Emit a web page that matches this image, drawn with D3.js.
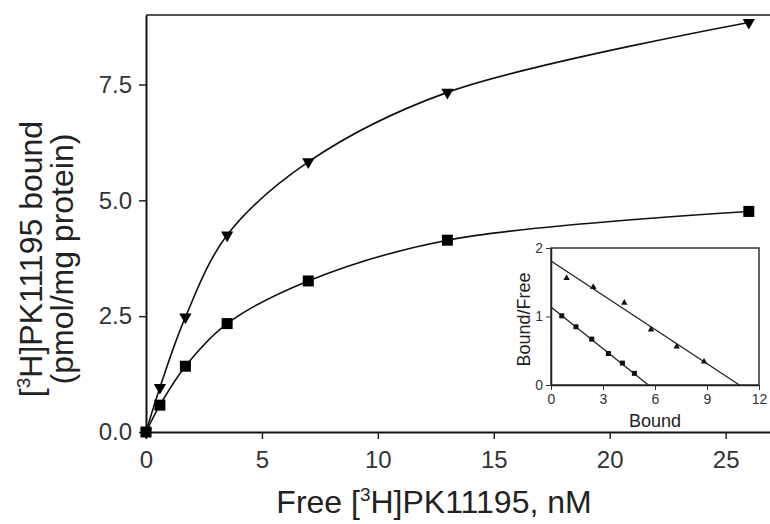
<!DOCTYPE html>
<html>
<head>
<meta charset="utf-8">
<script src="https://cdn.jsdelivr.net/npm/d3@7"></script>
<style>
  body { margin: 0; background: #fff; }
  svg text { font-family: "Liberation Sans", Arial, sans-serif; fill: #222; }
</style>
</head>
<body>
<svg id="binding"></svg>
<script>
// saturation binding: free nM vs bound pmol/mg protein
var freeConc = [0, 0.6, 1.7, 3.5, 7, 13, 26];
var boundTri = [0, 0.96, 2.48, 4.25, 5.83, 7.33, 8.84];
var boundSq = [0, 0.58, 1.42, 2.34, 3.26, 4.14, 4.76];
var xTicks = [0, 5, 10, 15, 20, 25];
var yTicks = [0, 2.5, 5, 7.5];

// scatchard inset
var scatBoundTri = [0.9, 2.44, 4.23, 5.77, 7.25, 8.83];
var scatRatioTri = [1.56, 1.43, 1.20, 0.81, 0.56, 0.34];
var scatBoundSq = [0.62, 1.44, 2.35, 3.31, 4.12, 4.81];
var scatRatioSq = [1.01, 0.85, 0.67, 0.46, 0.32, 0.17];
var fitTri = [[0, 1.81], [10.87, 0]];
var fitSq = [[0, 1.14], [5.62, 0]];
var insetXTicks = [0, 3, 6, 9, 12];
var insetYTicks = [0, 1, 2];

(function(){

    var margin = {top: 15, right: 0, bottom: 92, left: 146};
    var width = 626;
    var height = 417;

    var svg = d3.select("svg#binding")
        .attr("width", 770)
        .attr("height", 524);

    var g = svg.append("g")
        .attr("transform", "translate(" + margin.left + "," + margin.top + ")");

    var xScale = d3.scaleLinear().domain([0, 27]).range([0, width]);
    var yScale = d3.scaleLinear().domain([0, 9]).range([height, 0]);

    // frame top / right
    g.append("line")
        .attr("x1", 0).attr("x2", width).attr("y1", 0).attr("y2", 0)
        .style("stroke", "#555").style("stroke-width", 2);
    g.append("line")
        .attr("x1", width).attr("x2", width).attr("y1", 0).attr("y2", height)
        .style("stroke", "#555").style("stroke-width", 2);

    var xAxis = g.append("g")
        .attr("transform", "translate(0," + height + ")")
        .call(d3.axisBottom(xScale).tickValues(xTicks).tickSize(7).tickSizeOuter(0)
            .tickPadding(12).tickFormat(d3.format("d")));

    var yAxis = g.append("g")
        .call(d3.axisLeft(yScale).tickValues(yTicks).tickSize(7).tickSizeOuter(0)
            .tickPadding(7).tickFormat(d3.format(".1f")));

    [xAxis, yAxis].forEach(function(ax){
        ax.select(".domain").style("stroke", "#111").style("stroke-width", 2);
        ax.selectAll(".tick line").style("stroke", "#222").style("stroke-width", 1.5);
        ax.selectAll(".tick text").style("font-size", "24px").style("fill", "#333");
    });

    var line = d3.line()
        .x(function(d) { return xScale(d[0]); })
        .y(function(d) { return yScale(d[1]); })
        .curve(d3.curveCatmullRom.alpha(0.5));

    var triData = freeConc.map(function(x, i){ return [x, boundTri[i]]; });
    var sqData = freeConc.map(function(x, i){ return [x, boundSq[i]]; });

    [triData, sqData].forEach(function(d){
        g.append("path")
            .datum(d)
            .attr("d", line)
            .style("fill", "none")
            .style("stroke", "#111")
            .style("stroke-width", 1.6);
    });

    g.append("g").selectAll("rect")
        .data(sqData)
        .enter()
        .append("rect")
        .attr("x", function(d){ return xScale(d[0]) - 5.5; })
        .attr("y", function(d){ return yScale(d[1]) - 5.5; })
        .attr("width", 11).attr("height", 11)
        .style("fill", "#000");

    g.append("g").selectAll("path")
        .data(triData)
        .enter()
        .append("path")
        .attr("d", d3.symbol(d3.symbolTriangle).size(65))
        .attr("transform", function(d){
            return "translate(" + xScale(d[0]) + "," + yScale(d[1]) + ") rotate(180)";
        })
        .style("fill", "#000");

    // axis titles
    var xt = svg.append("text")
        .attr("x", 434).attr("y", 513)
        .attr("text-anchor", "middle")
        .style("font-size", "32px");
    xt.append("tspan").text("Free [");
    xt.append("tspan").attr("dy", -12).style("font-size", "19px").text("3");
    xt.append("tspan").attr("dy", 12).text("H]PK11195, nM");

    var yt = svg.append("g").attr("transform", "translate(42,259) rotate(-90)");
    var yl1 = yt.append("text").attr("text-anchor", "middle").style("font-size", "32px");
    yl1.append("tspan").text("[");
    yl1.append("tspan").attr("dy", -12).style("font-size", "19px").text("3");
    yl1.append("tspan").attr("dy", 12).text("H]PK11195 bound");
    yt.append("text").attr("y", 31).attr("text-anchor", "middle")
        .style("font-size", "32px").text("(pmol/mg protein)");

    // ---- inset ----
    var iw = 208, ih = 137;
    var ig = svg.append("g").attr("transform", "translate(551,248)");

    var ix = d3.scaleLinear().domain([0, 12]).range([0, iw]);
    var iy = d3.scaleLinear().domain([0, 2]).range([ih, 0]);

    ig.append("rect")
        .attr("width", iw).attr("height", ih)
        .style("fill", "#fff").style("stroke", "#333").style("stroke-width", 1.5);

    var ixAxis = ig.append("g")
        .attr("transform", "translate(0," + ih + ")")
        .call(d3.axisBottom(ix).tickValues(insetXTicks).tickSize(5).tickSizeOuter(0)
            .tickPadding(4).tickFormat(d3.format("d")));
    var iyAxis = ig.append("g")
        .call(d3.axisLeft(iy).tickValues(insetYTicks).tickSize(5).tickSizeOuter(0)
            .tickPadding(3).tickFormat(d3.format("d")));

    [ixAxis, iyAxis].forEach(function(ax){
        ax.select(".domain").style("stroke", "#222").style("stroke-width", 1.5);
        ax.selectAll(".tick line").style("stroke", "#333");
        ax.selectAll(".tick text").style("font-size", "14px").style("fill", "#333");
    });

    var iline = d3.line()
        .x(function(d){ return ix(d[0]); })
        .y(function(d){ return iy(d[1]); });

    [fitTri, fitSq].forEach(function(d){
        ig.append("path").datum(d).attr("d", iline)
            .style("fill", "none").style("stroke", "#222").style("stroke-width", 1.3);
    });

    ig.append("g").selectAll("rect")
        .data(scatBoundSq)
        .enter()
        .append("rect")
        .attr("x", function(d){ return ix(d) - 2.5; })
        .attr("y", function(d, i){ return iy(scatRatioSq[i]) - 2.5; })
        .attr("width", 5).attr("height", 5)
        .style("fill", "#111");

    ig.append("g").selectAll("path")
        .data(scatBoundTri)
        .enter()
        .append("path")
        .attr("d", d3.symbol(d3.symbolTriangle).size(18))
        .attr("transform", function(d, i){
            return "translate(" + ix(d) + "," + iy(scatRatioTri[i]) + ")";
        })
        .style("fill", "#111");

    ig.append("text")
        .attr("x", iw / 2).attr("y", ih + 42)
        .attr("text-anchor", "middle")
        .style("font-size", "18px")
        .text("Bound");

    ig.append("text")
        .attr("transform", "translate(-21," + (ih / 2 + 3) + ") rotate(-90)")
        .attr("text-anchor", "middle")
        .style("font-size", "18px")
        .text("Bound/Free");

})();
</script>
</body>
</html>
